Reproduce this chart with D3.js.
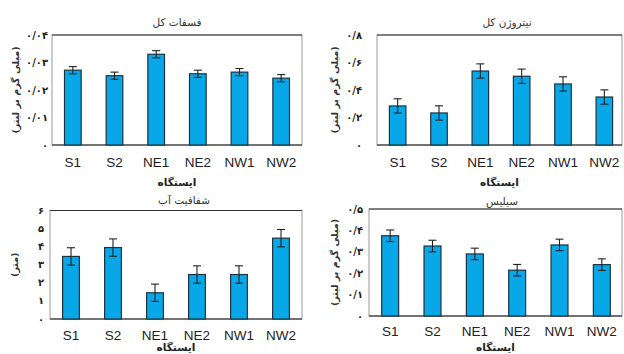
<!DOCTYPE html>
<html>
<head>
<meta charset="utf-8">
<script src="https://cdn.jsdelivr.net/npm/d3@7/dist/d3.min.js"></script>
<style>
  body { margin: 0; background: #fff; }
  svg { display: block; }
  .fa { font-family: "DejaVu Sans", "Noto Sans", sans-serif; }
  .lat { font-family: "Liberation Sans", Arial, sans-serif; }
</style>
</head>
<body>
<div id="chart"></div>
<script>
// stations (same for all four panels)
const stations = ["S1", "S2", "NE1", "NE2", "NW1", "NW2"];

// total phosphate
const phosphate = [0.0272, 0.0252, 0.0330, 0.0259, 0.0265, 0.0243];
const phosphateErr = [0.0013, 0.0013, 0.0013, 0.0013, 0.0013, 0.0013];
const phosphateTicks = [0, 0.01, 0.02, 0.03, 0.04];
const phosphateTickLabels = ["۰", "۰/۰۱", "۰/۰۲", "۰/۰۳", "۰/۰۴"];

// total nitrogen
const nitrogen = [0.284, 0.233, 0.538, 0.500, 0.444, 0.349];
const nitrogenErr = [0.052, 0.052, 0.052, 0.052, 0.052, 0.052];
const nitrogenTicks = [0, 0.2, 0.4, 0.6, 0.8];
const nitrogenTickLabels = ["۰", "۰/۲", "۰/۴", "۰/۶", "۰/۸"];

// water transparency (m)
const transparency = [3.46, 3.95, 1.45, 2.46, 2.46, 4.47];
const transparencyErr = [0.48, 0.48, 0.48, 0.48, 0.48, 0.48];
const transparencyTicks = [0, 1, 2, 3, 4, 5, 6];
const transparencyTickLabels = ["۰", "۱", "۲", "۳", "۴", "۵", "۶"];

// silica
const silica = [0.375, 0.327, 0.290, 0.214, 0.332, 0.240];
const silicaErr = [0.027, 0.027, 0.027, 0.027, 0.027, 0.027];
const silicaTicks = [0, 0.1, 0.2, 0.3, 0.4, 0.5];
const silicaTickLabels = ["۰", "۰/۱", "۰/۲", "۰/۳", "۰/۴", "۰/۵"];

const W = 624, H = 354;
const svg = d3.select("#chart").append("svg")
  .attr("width", W).attr("height", H);
svg.append("rect").attr("width", W).attr("height", H).attr("fill", "#fff");

const panels = [
  { title: "فسفات کل", ytitle: "(میلی گرم بر لیتر)", values: phosphate, err: phosphateErr,
    ticks: phosphateTicks, tickLabels: phosphateTickLabels,
    x0: 52, x1: 302, frameR: 302, top: 35, bot: 145, titleX: 177, titleY: 22,
    ylabX: 48, ytitleX: 16, xlabY: 162, xtitleY: 182 },
  { title: "نیتروژن کل", ytitle: "(میلی گرم بر لیتر)", values: nitrogen, err: nitrogenErr,
    ticks: nitrogenTicks, tickLabels: nitrogenTickLabels,
    x0: 377, x1: 625, frameR: 622, top: 35, bot: 145, titleX: 507, titleY: 22,
    ylabX: 362, ytitleX: 335, xlabY: 162, xtitleY: 182 },
  { title: "شفافیت آب", ytitle: "(متر)", values: transparency, err: transparencyErr,
    ticks: transparencyTicks, tickLabels: transparencyTickLabels,
    x0: 50, x1: 302, frameR: 302, top: 210.5, bot: 319, titleX: 184, titleY: 200,
    ylabX: 44, ytitleX: 15, xlabY: 335, xtitleY: 347 },
  { title: "سیلیس", ytitle: "(میلی گرم بر لیتر)", values: silica, err: silicaErr,
    ticks: silicaTicks, tickLabels: silicaTickLabels,
    x0: 369, x1: 623, frameR: 622, top: 209, bot: 316, titleX: 502, titleY: 201,
    ylabX: 363, ytitleX: 335, xlabY: 331, xtitleY: 347 }
];

panels.forEach(p => {
  const g = svg.append("g");
  const x = d3.scaleBand().domain(stations).range([p.x0, p.x1])
    .paddingInner(0.6).paddingOuter(0.3);
  const y = d3.scaleLinear().domain([0, d3.max(p.ticks)]).range([p.bot, p.top]);

  // frame
  g.append("rect")
    .attr("x", p.x0).attr("y", p.top)
    .attr("width", p.frameR - p.x0).attr("height", p.bot - p.top)
    .attr("fill", "none").attr("stroke", "#9a9a9a").attr("stroke-width", 1);
  g.append("line")
    .attr("x1", p.x0).attr("x2", p.frameR).attr("y1", p.top).attr("y2", p.top)
    .attr("stroke", "#333").attr("stroke-width", 1.2);
  g.append("line")
    .attr("x1", p.x0).attr("x2", p.frameR).attr("y1", p.bot).attr("y2", p.bot)
    .attr("stroke", "#555").attr("stroke-width", 1.5);

  // bars
  g.selectAll("rect.bar").data(p.values).enter().append("rect")
    .attr("class", "bar")
    .attr("x", (d, i) => x(stations[i]))
    .attr("y", d => y(d))
    .attr("width", x.bandwidth())
    .attr("height", d => p.bot - y(d))
    .attr("fill", "#08a8e8").attr("stroke", "#1b3442").attr("stroke-width", 1.2);

  // error bars
  const eb = g.selectAll("g.err").data(p.values).enter().append("g").attr("class", "err")
    .attr("stroke", "#222").attr("stroke-width", 1.1);
  eb.append("line")
    .attr("x1", (d, i) => x(stations[i]) + x.bandwidth() / 2)
    .attr("x2", (d, i) => x(stations[i]) + x.bandwidth() / 2)
    .attr("y1", (d, i) => y(d + p.err[i]))
    .attr("y2", (d, i) => y(d - p.err[i]));
  [1, -1].forEach(s => {
    eb.append("line")
      .attr("x1", (d, i) => x(stations[i]) + x.bandwidth() / 2 - 4)
      .attr("x2", (d, i) => x(stations[i]) + x.bandwidth() / 2 + 4)
      .attr("y1", (d, i) => y(d + s * p.err[i]))
      .attr("y2", (d, i) => y(d + s * p.err[i]));
  });

  // y tick labels
  g.selectAll("text.ytick").data(p.ticks).enter().append("text")
    .attr("class", "fa")
    .attr("x", p.ylabX).attr("y", d => y(d))
    .attr("dy", "0.35em")
    .attr("text-anchor", "end")
    .attr("font-size", 10).attr("font-weight", "bold").attr("fill", "#222")
    .attr("direction", "ltr")
    .text((d, i) => p.tickLabels[i]);

  // x tick labels
  g.selectAll("text.xtick").data(stations).enter().append("text")
    .attr("class", "lat")
    .attr("x", d => x(d) + x.bandwidth() / 2).attr("y", p.xlabY)
    .attr("dy", "0.35em")
    .attr("text-anchor", "middle")
    .attr("font-size", 13.5).attr("fill", "#222")
    .text(d => d);

  // titles
  g.append("text").attr("class", "fa")
    .attr("x", p.titleX).attr("y", p.titleY).attr("dy", "0.35em")
    .attr("text-anchor", "middle").attr("font-size", 10.5).attr("fill", "#333")
    .text(p.title);
  g.append("text").attr("class", "fa")
    .attr("x", (p.x0 + p.frameR) / 2).attr("y", p.xtitleY).attr("dy", "0.35em")
    .attr("text-anchor", "middle").attr("font-size", 10.5).attr("font-weight", "bold")
    .attr("fill", "#222")
    .text("ایستگاه");
  g.append("text").attr("class", "fa")
    .attr("transform", "translate(" + p.ytitleX + "," + (p.top + p.bot) / 2 + ") rotate(-90)")
    .attr("dy", "0.35em")
    .attr("text-anchor", "middle").attr("font-size", 9.5).attr("font-weight", "bold")
    .attr("fill", "#333")
    .text(p.ytitle);
});
</script>
</body>
</html>
